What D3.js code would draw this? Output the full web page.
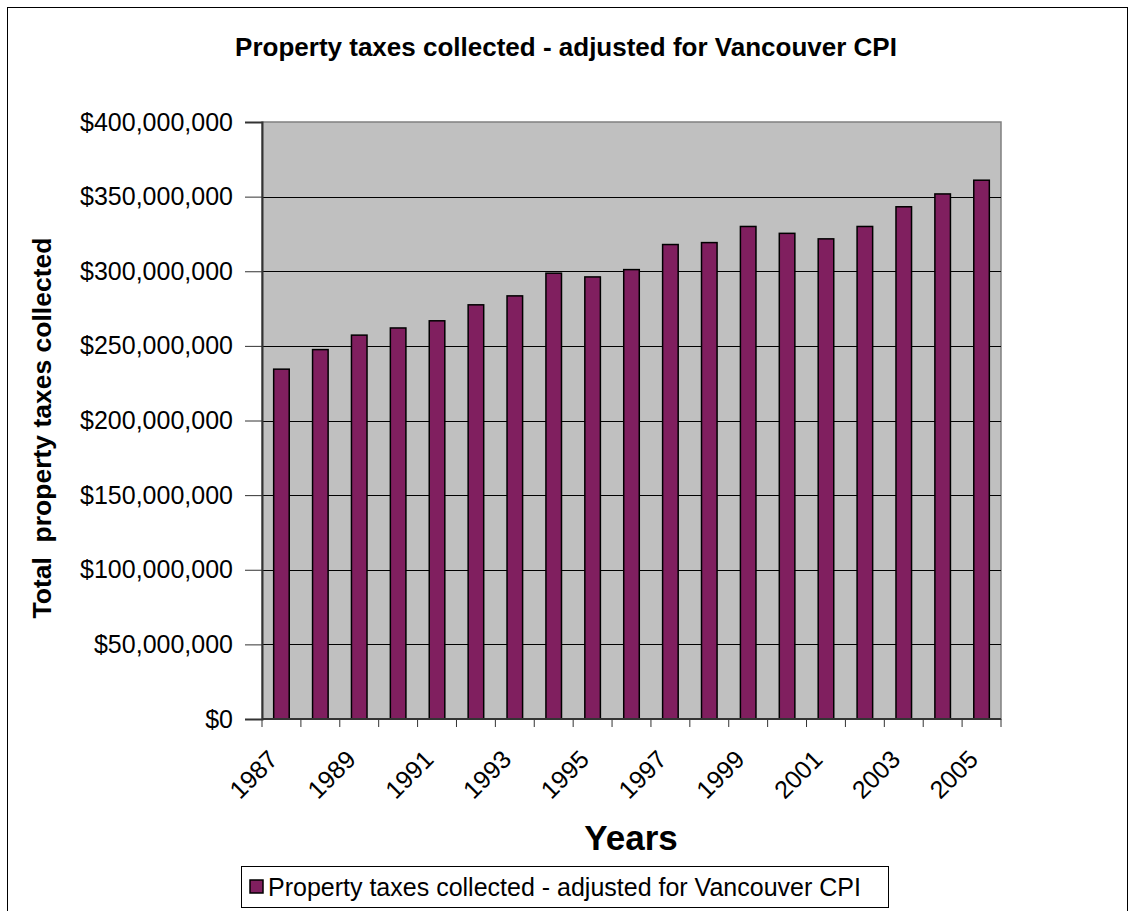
<!DOCTYPE html>
<html>
<head>
<meta charset="utf-8">
<script src="https://cdn.jsdelivr.net/npm/d3@7"></script>
<style>
  html, body { margin: 0; padding: 0; background: #fff; }
  svg { display: block; font-family: "Liberation Sans", Arial, sans-serif; }
</style>
</head>
<body>
<svg id="chart" width="1133" height="911"></svg>
<script>
const years = ["1987","1988","1989","1990","1991","1992","1993","1994","1995","1996",
               "1997","1998","1999","2000","2001","2002","2003","2004","2005"];
const taxes = [234400000, 247500000, 257200000, 262000000, 266800000, 277500000, 283500000,
               298700000, 296200000, 301100000, 317900000, 319200000, 330000000, 325400000,
               321700000, 330000000, 343200000, 351800000, 361000000];
const yTicks = [0, 50000000, 100000000, 150000000, 200000000, 250000000, 300000000, 350000000, 400000000];
const xLabelYears = ["1987","1989","1991","1993","1995","1997","1999","2001","2003","2005"];
const chartTitle = "Property taxes collected - adjusted for Vancouver CPI";
const seriesName = "Property taxes collected - adjusted for Vancouver CPI";
const xTitle = "Years";
const yTitle = "Total  property taxes collected";

const svg = d3.select("#chart");
const L = 262, R = 1001, T = 122, B = 719;

// outer border
svg.append("rect").attr("x", 7.5).attr("y", 7.5).attr("width", 1120).attr("height", 940)
  .attr("fill", "#fff").attr("stroke", "#000").attr("stroke-width", 1);

const x = d3.scaleBand().domain(years).range([L, R]).paddingInner(0.6).paddingOuter(0.3);
const xc = d3.scaleBand().domain(years).range([L, R]);
const y = d3.scaleLinear().domain([0, 400000000]).range([B, T]);

// plot area
svg.append("rect").attr("x", L).attr("y", T).attr("width", R - L).attr("height", B - T)
  .attr("fill", "#C0C0C0").attr("stroke", "#808080").attr("stroke-width", 1.5);

// gridlines
svg.append("g").selectAll("line").data(yTicks.filter(d => d > 0 && d < 400000000)).join("line")
  .attr("x1", L).attr("x2", R).attr("y1", d => Math.round(y(d)) + 0.5).attr("y2", d => Math.round(y(d)) + 0.5)
  .attr("stroke", "#000").attr("stroke-width", 1);

// bars
svg.append("g").selectAll("rect").data(years).join("rect")
  .attr("x", (d) => x(d)).attr("width", x.bandwidth())
  .attr("y", (d, i) => y(taxes[i])).attr("height", (d, i) => B - y(taxes[i]))
  .attr("fill", "#801F5F").attr("stroke", "#000").attr("stroke-width", 1.5);

// y axis
const yAxis = d3.axisLeft(y).tickValues(yTicks).tickSize(17).tickPadding(12)
  .tickFormat(d => "$" + d3.format(",")(d));
const gy = svg.append("g").attr("transform", `translate(${L},0)`).call(yAxis);
gy.select(".domain").attr("stroke", "#333").attr("stroke-width", 2);
gy.selectAll(".tick line").attr("stroke", "#333");
gy.selectAll(".tick text").attr("font-size", 25).attr("fill", "#000")
  .attr("font-family", "Liberation Sans, Arial, sans-serif");

// x axis: ticks at category boundaries
const boundaries = years.map(d => xc(d)).concat([R]);
svg.append("g").selectAll("line").data(boundaries).join("line")
  .attr("x1", d => d).attr("x2", d => d).attr("y1", B).attr("y2", B + 8)
  .attr("stroke", "#333").attr("stroke-width", 1);
svg.append("line").attr("x1", L).attr("x2", R).attr("y1", B).attr("y2", B)
  .attr("stroke", "#333").attr("stroke-width", 2);

svg.append("g").selectAll("text").data(xLabelYears).join("text")
  .attr("transform", d => `translate(${xc(d) + xc.bandwidth() / 2 - 2},${B + 42}) rotate(-45)`)
  .attr("text-anchor", "end").attr("font-size", 25).attr("fill", "#000")
  .text(d => d);

// title
svg.append("text").attr("x", 566).attr("y", 56).attr("text-anchor", "middle")
  .attr("font-size", 26).attr("font-weight", "bold").text(chartTitle);

// axis titles
svg.append("text").attr("x", 631).attr("y", 850).attr("text-anchor", "middle")
  .attr("font-size", 35).attr("font-weight", "bold").text(xTitle);
svg.append("text").attr("transform", `translate(51,428) rotate(-90)`)
  .attr("text-anchor", "middle").attr("font-size", 26.5).attr("font-weight", "bold")
  .attr("xml:space", "preserve").style("white-space", "pre").text(yTitle);

// legend
const lg = svg.append("g");
lg.append("rect").attr("x", 241.5).attr("y", 866.5).attr("width", 647).attr("height", 41)
  .attr("fill", "#fff").attr("stroke", "#000").attr("stroke-width", 1);
lg.append("rect").attr("x", 250).attr("y", 880).attr("width", 13).attr("height", 13)
  .attr("fill", "#801F5F").attr("stroke", "#000").attr("stroke-width", 1.5);
lg.append("text").attr("x", 268).attr("y", 896).attr("font-size", 25).text(seriesName);
</script>
</body>
</html>
